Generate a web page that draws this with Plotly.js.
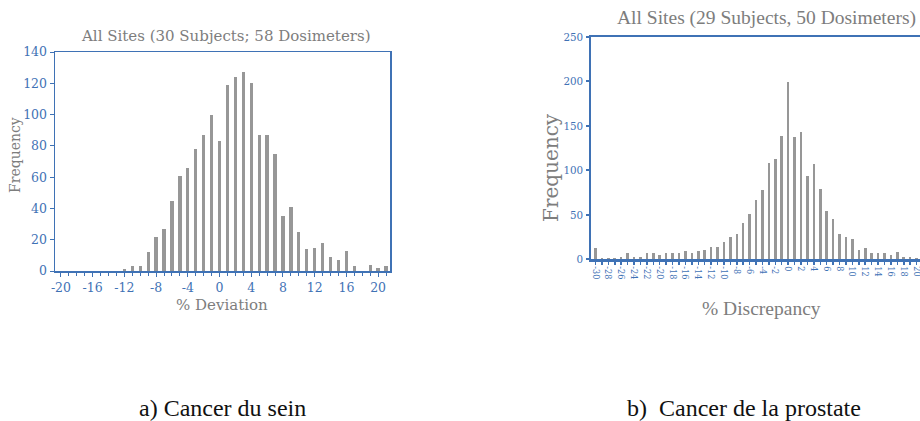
<!DOCTYPE html>
<html>
<head>
<meta charset="utf-8">
<script src="https://cdn.plot.ly/plotly-3.0.1.min.js"></script>
<style>
html,body{margin:0;padding:0;background:#fff;overflow:hidden;width:920px;height:421px;}
#chart{width:960px;height:421px;}
</style>
</head>
<body>
<div id="chart"></div>
<script>
// a) Breast cancer: % deviation bins and frequencies
const breastDeviation = [-12,-11,-10,-9,-8,-7,-6,-5,-4,-3,-2,-1,0,1,2,3,4,5,6,7,8,9,10,11,12,13,14,15,16,17,18,19,20,21];
const breastFrequency = [1,3,3,12,22,27,45,61,66,78,87,100,83,119,124,127,120,87,87,75,35,41,25,14,15,18,9,7,13,3,0,4,2,3];

// b) Prostate cancer: % discrepancy bins and frequencies
const prostateDiscrepancy = [-30,-29,-28,-27,-26,-25,-24,-23,-22,-21,-20,-19,-18,-17,-16,-15,-14,-13,-12,-11,-10,-9,-8,-7,-6,-5,-4,-3,-2,-1,0,1,2,3,4,5,6,7,8,9,10,11,12,13,14,15,16,17,18,19,20,21,22];
const prostateFrequency = [12,1,1.5,1,2,7,2,2,6.5,6.5,4,7,7,7,8.5,7,9,10,13,14,19,25,28,40,51,66,78,108,113,138,199,137,143,93,107,79,54,45,28,25,22,10,12,7,7,7,4,8,2,2,1.5,1,1];

const leftTickVals = [-20,-16,-12,-8,-4,0,4,8,12,16,20];
const rightTickVals = [-30,-28,-26,-24,-22,-20,-18,-16,-14,-12,-10,-8,-6,-4,-2,0,2,4,6,8,10,12,14,16,18,20,22];

const leftTitle = 'All Sites (30 Subjects; 58 Dosimeters)';
const rightTitle = 'All Sites (29 Subjects, 50 Dosimeters)';
const captionA = 'a) Cancer du sein';
const captionB = 'b)  Cancer de la prostate';

const W = 960, H = 421;
const px = v => v / W;
const py = v => 1 - v / H;

const blue = '#3f72b5';
const gray = '#7d7d7d';
const barGray = '#979797';
const serif = 'DejaVu Serif, serif';
const condensed = 'DejaVu Serif Condensed, DejaVu Serif, serif';

const traces = [
  {type:'bar', x: breastDeviation, y: breastFrequency, width: 0.42,
   marker:{color: barGray}, xaxis:'x', yaxis:'y', hoverinfo:'x+y'},
  {type:'bar', x: prostateDiscrepancy, y: prostateFrequency, width: 0.4,
   marker:{color: barGray}, xaxis:'x2', yaxis:'y2', hoverinfo:'x+y'}
];

const layout = {
  width: W, height: H,
  margin:{l:0,r:0,t:0,b:0},
  paper_bgcolor:'#fff', plot_bgcolor:'#fff',
  showlegend:false,
  bargap:0,
  xaxis:{
    domain:[px(55), px(390)], anchor:'y',
    range:[-20.75, 21.5],
    tickvals: leftTickVals, ticktext: leftTickVals.map(String),
    ticks:'outside', ticklen:4, tickwidth:1, tickcolor: blue,
    minor:{dtick:1, tick0:0, ticks:'outside', ticklen:3, tickcolor: blue, tickwidth:1},
    showgrid:false, zeroline:false,
    showline:true, linecolor: blue, linewidth:1.5, mirror:true,
    tickfont:{family: serif, size:12.5, color: blue},
    fixedrange:true
  },
  yaxis:{
    domain:[py(271), py(52)], anchor:'x',
    range:[0,140], dtick:20,
    ticks:'outside', ticklen:4, tickwidth:1, tickcolor: blue,
    showgrid:false, zeroline:false,
    showline:true, linecolor: blue, linewidth:1.5, mirror:true,
    tickfont:{family: serif, size:12.5, color: blue},
    fixedrange:true
  },
  xaxis2:{
    domain:[px(591), px(941)], anchor:'y2',
    range:[-30.7, 23.8],
    tickvals: rightTickVals, ticktext: rightTickVals.map(String),
    tickangle:90,
    ticks:'outside', ticklen:3, tickwidth:1.5, tickcolor: blue,
    minor:{dtick:1, tick0:0, ticks:'outside', ticklen:3, tickcolor: blue, tickwidth:1.5},
    showgrid:false, zeroline:false,
    showline:true, linecolor: blue, linewidth:2.5, mirror:true,
    tickfont:{family: condensed, size:9, color: blue},
    fixedrange:true
  },
  yaxis2:{
    domain:[py(259), py(37)], anchor:'x2',
    range:[0,250], dtick:50,
    ticks:'outside', ticklen:3, tickwidth:2, tickcolor: blue,
    showgrid:false, zeroline:false,
    showline:true, linecolor: blue, linewidth:2.5, mirror:true,
    tickfont:{family: condensed, size:11.5, color: blue},
    fixedrange:true
  },
  annotations:[
    {text: leftTitle, xref:'paper', yref:'paper', x: px(226), y: py(36), xanchor:'center', yanchor:'middle',
     showarrow:false, font:{family: serif, size:15, color: gray}},
    {text: rightTitle, xref:'paper', yref:'paper', x: px(766), y: py(18), xanchor:'center', yanchor:'middle',
     showarrow:false, font:{family: 'Liberation Serif, serif', size:19.5, color: gray}},
    {text: 'Frequency', xref:'paper', yref:'paper', x: px(15), y: py(155), xanchor:'center', yanchor:'middle',
     textangle:-90, showarrow:false, font:{family: serif, size:14, color: gray}},
    {text: '% Deviation', xref:'paper', yref:'paper', x: px(222), y: py(305), xanchor:'center', yanchor:'middle',
     showarrow:false, font:{family: serif, size:15, color: gray}},
    {text: 'Frequency', xref:'paper', yref:'paper', x: px(551), y: py(168), xanchor:'center', yanchor:'middle',
     textangle:-90, showarrow:false, font:{family: serif, size:20, color: gray}},
    {text: '% Discrepancy', xref:'paper', yref:'paper', x: px(761), y: py(308), xanchor:'center', yanchor:'middle',
     showarrow:false, font:{family: 'Liberation Serif, serif', size:19.5, color: gray}},
    {text: captionA, xref:'paper', yref:'paper', x: px(222), y: py(408), xanchor:'center', yanchor:'middle',
     showarrow:false, font:{family: 'Liberation Serif, serif', size:24, color:'#111'}},
    {text: captionB, xref:'paper', yref:'paper', x: px(744), y: py(408), xanchor:'center', yanchor:'middle',
     showarrow:false, font:{family: 'Liberation Serif, serif', size:24, color:'#111'}}
  ]
};

Plotly.newPlot('chart', traces, layout, {displayModeBar:false, staticPlot:true});
</script>
</body>
</html>
